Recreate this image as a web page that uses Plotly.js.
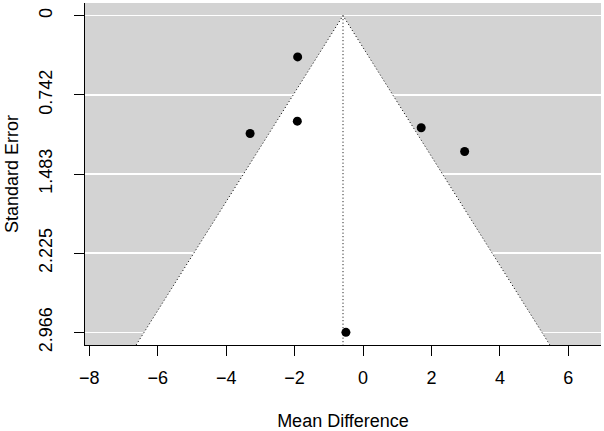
<!DOCTYPE html>
<html>
<head>
<meta charset="utf-8">
<script src="https://cdn.plot.ly/plotly-3.0.1.min.js"></script>
<style>html,body{margin:0;padding:0;background:#fff;}#chart{width:604px;height:431px;}</style>
</head>
<body>
<div id="chart"></div>
<script>
// Study data
const meanDiff = [-1.91, -1.92, -3.30, 1.70, 2.97, -0.50];
const stdErr   = [0.386, 0.988, 1.104, 1.050, 1.272, 2.966];
// Pooled estimate (apex of funnel)
const estimate = -0.585;
// Axis ticks
const yTickVals = [0, 0.742, 1.483, 2.225, 2.966];
const yTickText = ["0", "0.742", "1.483", "2.225", "2.966"];
const xTickVals = [-8, -6, -4, -2, 0, 2, 4, 6];
const xTickText = ["\u22128", "\u22126", "\u22124", "\u22122", "0", "2", "4", "6"];

const maxSe = Math.max(...stdErr);
const yPad = maxSe * 0.04;
const yBottom = maxSe + yPad;
const z = 1.96;

const font = {family: "Liberation Sans, Arial, sans-serif", size: 18, color: "#000"};
const dotted = {color: "#000", width: 1, dash: "1px,2.5px"};

const traces = [
  { // white funnel region
    x: [estimate - z * yBottom, estimate, estimate + z * yBottom],
    y: [yBottom, 0, yBottom],
    mode: "lines", fill: "toself", fillcolor: "#ffffff",
    line: {width: 0, color: "rgba(0,0,0,0)"}, hoverinfo: "skip", showlegend: false
  },
  { // funnel edges
    x: [estimate - z * yBottom, estimate, estimate + z * yBottom],
    y: [yBottom, 0, yBottom],
    mode: "lines", line: dotted,
    hoverinfo: "skip", showlegend: false
  },
  { // vertical reference line
    x: [estimate, estimate],
    y: [0, yBottom],
    mode: "lines", line: dotted,
    hoverinfo: "skip", showlegend: false
  },
  { // studies
    x: meanDiff, y: stdErr, mode: "markers",
    marker: {color: "#000", size: 9}, showlegend: false, cliponaxis: false
  }
];

const layout = {
  width: 604, height: 431,
  margin: {l: 85, r: 3, t: 3, b: 86},
  paper_bgcolor: "#ffffff",
  plot_bgcolor: "#d3d3d3",
  font: font,
  showlegend: false,
  xaxis: {
    range: [-8.125, 6.955],
    tickvals: xTickVals, ticktext: xTickText,
    ticks: "outside", ticklen: 10, tickcolor: "#000", tickwidth: 1,
    showline: true, linecolor: "#000", linewidth: 1,
    showgrid: false, zeroline: false,
    ticklabelstandoff: 6,
    tickfont: font,
    title: {text: "Mean Difference", font: font, standoff: 30},
    automargin: false
  },
  yaxis: {
    range: [yBottom, -yPad],
    tickvals: yTickVals, ticktext: yTickText,
    ticks: "outside", ticklen: 10, tickcolor: "#000", tickwidth: 1,
    tickangle: -90,
    showline: true, linecolor: "#000", linewidth: 1,
    showgrid: true, gridcolor: "#ffffff", gridwidth: 1.5,
    zeroline: false,
    ticklabelstandoff: 15,
    tickfont: font,
    title: {text: "Standard Error", font: font, standoff: 12},
    automargin: false
  }
};

Plotly.newPlot("chart", traces, layout, {staticPlot: true, displayModeBar: false});
</script>
</body>
</html>
